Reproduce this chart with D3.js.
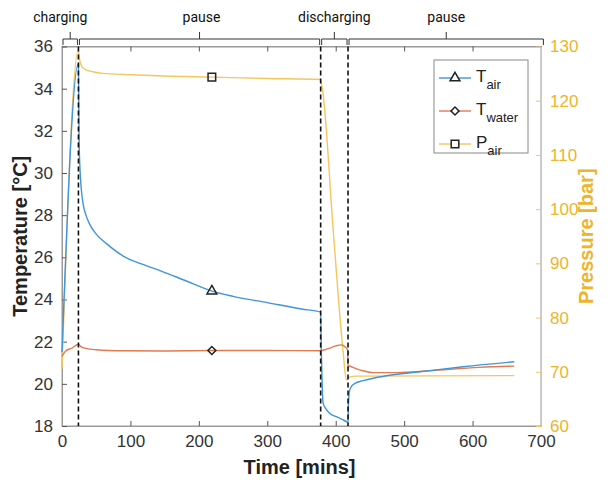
<!DOCTYPE html>
<html>
<head>
<meta charset="utf-8">
<script src="https://cdn.jsdelivr.net/npm/d3@7"></script>
<style>
  body { margin: 0; background: #fff; }
  text { font-family: "Liberation Sans", Arial, sans-serif; }
</style>
</head>
<body>
<div id="chart"></div>
<script>
// air temperature [°C]
const airTime = [0, 24, 25, 26, 28, 31, 35, 40, 50, 65, 90, 115, 145, 180, 219, 250, 300, 350, 378,
  379, 380, 381.5, 385, 391, 401, 410, 416, 418, 418.5, 420.4, 424, 428, 440, 472, 523, 586, 661];
const airTemp = [21.5, 35.2, 31.5, 30.4, 29.3, 28.5, 28.0, 27.6, 27.1, 26.65, 26.05, 25.7, 25.35, 24.9, 24.4, 24.15, 23.85, 23.55, 23.4,
  21.5, 20.2, 19.1, 18.85, 18.6, 18.44, 18.3, 18.2, 18.15, 19.0, 19.7, 19.92, 20.02, 20.15, 20.37, 20.57, 20.81, 21.05];

// water temperature [°C]
const waterTime = [0, 5, 15, 24, 28, 35, 50, 90, 150, 219, 300, 378, 390, 400, 408, 414, 417.5,
  418, 419, 423, 440, 455, 489, 537, 610, 661];
const waterTemp = [21.3, 21.55, 21.7, 21.88, 21.75, 21.68, 21.62, 21.57, 21.56, 21.58, 21.58, 21.57, 21.68, 21.8, 21.85, 21.75, 21.6,
  20.75, 20.86, 20.81, 20.62, 20.53, 20.53, 20.62, 20.78, 20.84];

// air pressure [bar]
const pressTime = [0, 24, 25, 26, 28, 30, 35, 45, 60, 100, 150, 219, 300, 378,
  379, 381.4, 396, 410.6, 415.6, 418, 420, 430, 661];
const airPress = [70.5, 129.4, 128.2, 127.4, 126.6, 126.1, 125.7, 125.35, 125.05, 124.8, 124.55, 124.35, 124.1, 123.9,
  123.2, 121.4, 96.7, 74, 68.5, 68.8, 69.0, 69.2, 69.3];

// marker positions (one per series)
const markerTime = [219, 219, 219];
const markerVals = [24.4, 21.58, 124.35];

// phases of the test
const phaseBounds = [0, 24, 378, 418, 705];
const phaseNames = ["charging", "pause", "discharging", "pause"];
const switchTimes = [24, 378, 418];

const xTicks = [0, 100, 200, 300, 400, 500, 600, 700];
const yTicks = [18, 20, 22, 24, 26, 28, 30, 32, 34, 36];
const pTicks = [60, 70, 80, 90, 100, 110, 120, 130];

const W = 613, H = 490;
const mLeft = 62, mRight = 541, mTop = 46.5, mBottom = 426;
const labelShift = [-10, 2, 0, 0];   // px nudges of the phase labels

const blue = "#3f95d8", red = "#e2794f", yellow = "#f5c65c";
const pLabel = "#eeb42a";

const svg = d3.select("#chart").append("svg")
  .attr("width", W).attr("height", H);

const x = d3.scaleLinear().domain([0, 700]).range([mLeft, mRight]);
const y = d3.scaleLinear().domain([18, 36]).range([mBottom, mTop]);
const yp = d3.scaleLinear().domain([60, 130]).range([mBottom, mTop]);

// box
svg.append("rect")
  .attr("x", mLeft).attr("y", mTop)
  .attr("width", mRight - mLeft).attr("height", mBottom - mTop)
  .style("fill", "#fff").style("stroke", "#9a9a9a").style("stroke-width", 1);

// axes
svg.append("g").attr("transform", `translate(0,${mBottom})`)
  .call(d3.axisBottom(x).tickValues(xTicks).tickSizeInner(-5).tickSizeOuter(0).tickPadding(9))
  .call(g => g.select(".domain").attr("stroke", "#9a9a9a"))
  .call(g => g.selectAll(".tick line").attr("stroke", "#555"))
  .call(g => g.selectAll("text").style("font-size", "17px").style("fill", "#333"));

svg.append("g").attr("transform", `translate(0,${mTop})`)
  .call(d3.axisTop(x).tickValues(xTicks).tickSizeInner(-5).tickSizeOuter(0).tickFormat(""))
  .call(g => g.select(".domain").attr("stroke", "#9a9a9a"))
  .call(g => g.selectAll(".tick line").attr("stroke", "#555"));

svg.append("g").attr("transform", `translate(${mLeft},0)`)
  .call(d3.axisLeft(y).tickValues(yTicks).tickSizeInner(-5).tickSizeOuter(0).tickPadding(9))
  .call(g => g.select(".domain").attr("stroke", "#9a9a9a"))
  .call(g => g.selectAll(".tick line").attr("stroke", "#555"))
  .call(g => g.selectAll("text").style("font-size", "17px").style("fill", "#333"));

svg.append("g").attr("transform", `translate(${mRight},0)`)
  .call(d3.axisRight(yp).tickValues(pTicks).tickSizeInner(-5).tickSizeOuter(0).tickPadding(9))
  .call(g => g.select(".domain").attr("stroke", yellow))
  .call(g => g.selectAll(".tick line").attr("stroke", yellow))
  .call(g => g.selectAll("text").style("font-size", "17px").style("fill", pLabel));

// curves
const lineT = d3.line().x(d => x(d[0])).y(d => y(d[1])).curve(d3.curveMonotoneX);
const lineP = d3.line().x(d => x(d[0])).y(d => yp(d[1])).curve(d3.curveMonotoneX);

svg.append("path").datum(d3.zip(pressTime, airPress))
  .attr("d", lineP).style("fill", "none").style("stroke", yellow).style("stroke-width", 1.4);
svg.append("path").datum(d3.zip(waterTime, waterTemp))
  .attr("d", lineT).style("fill", "none").style("stroke", red).style("stroke-width", 1.4);
svg.append("path").datum(d3.zip(airTime, airTemp))
  .attr("d", lineT).style("fill", "none").style("stroke", blue).style("stroke-width", 1.4);

// phase switch lines
svg.selectAll(".switch").data(switchTimes)
  .enter().append("line")
  .attr("class", "switch")
  .attr("x1", d => x(d)).attr("x2", d => x(d))
  .attr("y1", mTop).attr("y2", mBottom)
  .style("stroke", "#111").style("stroke-width", 1.6)
  .style("stroke-dasharray", "5,3");

// markers (diamond = square turned 45deg)
const symbols = [d3.symbolTriangle, d3.symbolSquare, d3.symbolSquare];
const markerRot = ["", " rotate(45)", ""];
const markerY = [v => y(v), v => y(v), v => yp(v)];
const markerSize = [42, 32, 58];
markerTime.forEach((t, i) => {
  svg.append("path")
    .attr("d", d3.symbol().type(symbols[i]).size(markerSize[i]))
    .attr("transform", `translate(${x(t)},${markerY[i](markerVals[i])})` + markerRot[i])
    .style("fill", "none").style("stroke", "#222").style("stroke-width", 1.5);
});

// phase braces on top
const braceY = 39;
phaseNames.forEach((name, i) => {
  const x0 = x(phaseBounds[i]) + 1, x1 = x(phaseBounds[i + 1]) - 1, xm = (x0 + x1) / 2;
  svg.append("path")
    .attr("d", `M${x0},${braceY + 6} L${x0},${braceY} L${x1},${braceY} L${x1},${braceY + 6} M${xm},${braceY} L${xm},${braceY - 7}`)
    .style("fill", "none").style("stroke", "#333").style("stroke-width", 1);
  svg.append("text")
    .attr("x", xm + labelShift[i]).attr("y", 22)
    .attr("text-anchor", "middle")
    .style("font-family", "Roboto, 'Open Sans', sans-serif")
    .style("font-size", "14px").style("fill", "#111")
    .text(name);
});

// axis titles
svg.append("text")
  .attr("x", (mLeft + mRight) / 2 - 2).attr("y", 474)
  .attr("text-anchor", "middle")
  .style("font-size", "20px").style("font-weight", "bold").style("fill", "#222")
  .text("Time [mins]");

svg.append("text")
  .attr("transform", `translate(27,${(mTop + mBottom) / 2}) rotate(-90)`)
  .attr("text-anchor", "middle")
  .style("font-size", "20px").style("font-weight", "bold").style("fill", "#222")
  .text("Temperature [°C]");

svg.append("text")
  .attr("transform", `translate(593,${(mTop + mBottom) / 2}) rotate(-90)`)
  .attr("text-anchor", "middle")
  .style("font-size", "20px").style("font-weight", "bold").style("fill", pLabel)
  .text("Pressure [bar]");

// legend
const legendNames = [["T", "air"], ["T", "water"], ["P", "air"]];
const legendColors = [blue, red, yellow];
const lg = svg.append("g").attr("transform", "translate(434,60)");
lg.append("rect").attr("width", 94).attr("height", 93)
  .style("fill", "#fff").style("stroke", "#888").style("stroke-width", 1);
legendNames.forEach((n, i) => {
  const ly = 18 + i * 33;
  lg.append("line").attr("x1", 5).attr("x2", 37).attr("y1", ly).attr("y2", ly)
    .style("stroke", legendColors[i]).style("stroke-width", 1.4);
  lg.append("path")
    .attr("d", d3.symbol().type(symbols[i]).size(markerSize[i]))
    .attr("transform", `translate(21,${ly})` + markerRot[i])
    .style("fill", "#fff").style("stroke", "#222").style("stroke-width", 1.5);
  const t = lg.append("text").attr("x", 42).attr("y", ly + 4)
    .style("font-size", "17px").style("fill", "#222");
  t.append("tspan").text(n[0]);
  t.append("tspan").attr("dy", 7).style("font-size", "13px").text(n[1]);
});
</script>
</body>
</html>
